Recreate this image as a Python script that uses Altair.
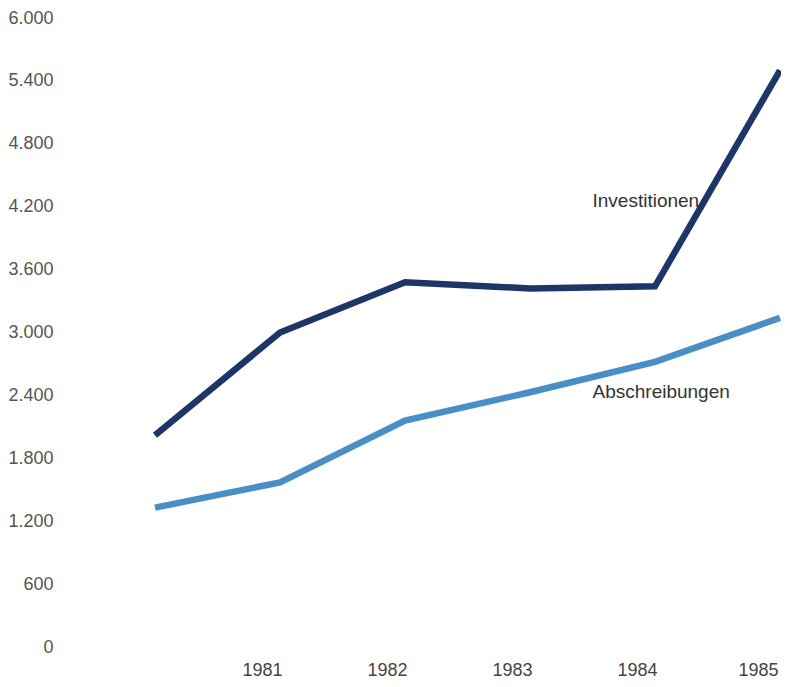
import altair as alt
import pandas as pd

years = [1980, 1981, 1982, 1983, 1984, 1985]
investitionen = [2020, 3000, 3480, 3420, 3440, 5500]
abschreibungen = [1330, 1570, 2160, 2430, 2720, 3140]
series_names = ["Investitionen", "Abschreibungen"]
series_colors = ["#1d3667", "#4a8ec6"]
y_ticks = [0, 600, 1200, 1800, 2400, 3000, 3600, 4200, 4800, 5400, 6000]
x_ticks = [1981, 1982, 1983, 1984, 1985]

label_text = ["Investitionen", "Abschreibungen"]
label_year = [1983.5, 1983.5]
label_value = [4255, 2430]

rows = []
for name, vals in zip(series_names, [investitionen, abschreibungen]):
    for yr, v in zip(years, vals):
        rows.append({"year": yr, "value": v, "series": name})
df = pd.DataFrame(rows)
labels_df = pd.DataFrame({"year": label_year, "value": label_value, "text": label_text})

FONT = "Liberation Sans"

x_enc = alt.X(
    "year:Q",
    scale=alt.Scale(domain=[1980, 1985], nice=False, zero=False),
    axis=alt.Axis(
        values=x_ticks, format="d", title=None, grid=False, domain=False,
        ticks=False, tickSize=0, labelPadding=14,
        labelOffset={"condition": {"test": "datum.value == 1985", "value": -22}, "value": -18},
        labelFlush=False, labelFontSize=18, labelColor="#444", labelFont=FONT,
    ),
)
y_enc = alt.Y(
    "value:Q",
    scale=alt.Scale(domain=[0, 6000], nice=False),
    axis=alt.Axis(
        values=y_ticks, title=None, grid=False, domain=False, ticks=False,
        tickSize=0, labelPadding=102, labelFontSize=18, labelColor="#555",
        labelFont=FONT,
        labelExpr="replace(format(datum.value, ','), ',', '.')",
    ),
)

lines = alt.Chart(df).mark_line(strokeWidth=6.5, strokeJoin="miter").encode(
    x=x_enc,
    y=y_enc,
    color=alt.Color("series:N", scale=alt.Scale(domain=series_names, range=series_colors), legend=None),
)

texts = alt.Chart(labels_df).mark_text(
    align="left", baseline="middle", fontSize=19, font=FONT, color="#333"
).encode(
    x=alt.X("year:Q"),
    y=alt.Y("value:Q"),
    text="text:N",
)

chart = alt.layer(lines, texts).properties(
    width=625,
    height=629,
    padding={"left": 147, "top": 10, "right": 1, "bottom": 32},
    autosize=alt.AutoSizeParams(type="none"),
).configure_view(stroke=None)

chart.save("out.html", embed_options={"renderer": "svg", "actions": False})
